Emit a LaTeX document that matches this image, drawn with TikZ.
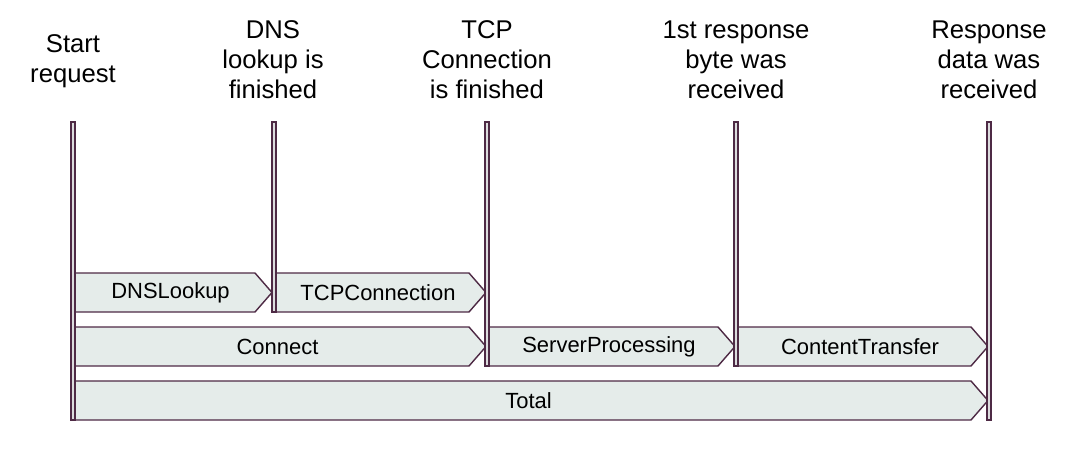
\documentclass[tikz,border=0pt]{standalone}
\usepackage{fontspec}
\setmainfont{Liberation Sans}

\definecolor{edgepurple}{HTML}{4E2A45}
\definecolor{phasefill}{HTML}{E5ECEA}
\definecolor{barfill}{HTML}{DCDCDE}

\tikzset{
  phase/.style={draw=edgepurple, fill=phasefill, line width=0.8pt, line join=miter},
  phaselabel/.style={font=\fontsize{12.5}{15}\selectfont, inner sep=0pt},
  bar/.style={draw=edgepurple, fill=barfill, line width=0.8pt},
  eventlabel/.style={font=\fontsize{14.6}{17.1}\selectfont, align=center, inner sep=0pt}
}

% name, left x, tip x, top y, text
\newcommand{\phasebox}[5]{%
  \draw[phase] (#2,#4) -- (#3-17,#4) -- (#3,#4+19.5) -- (#3-17,#4+39) -- (#2,#4+39) -- cycle;
  \node[phaselabel] (#1) at ({(#2+#3-6)/2},#4+19.5) {#5};}

\begin{document}
\begin{tikzpicture}[x=0.02cm, y=-0.02cm]
    \useasboundingbox (0,0) rectangle (1077,449);

    \node[eventlabel] (start) at (73,61) {Start\\request};
    \node[eventlabel] (dns) at (273,60) {DNS\\lookup is\\finished};
    \node[eventlabel] (tcp) at (487,60) {TCP\\Connection\\is finished};
    \node[eventlabel] (firstbyte) at (736,60) {1st response\\byte was\\received};
    \node[eventlabel] (done) at (989,60) {Response\\data was\\received};

    \phasebox{dnslookup}{75}{272}{273}{DNSLookup}
    \phasebox{tcpconn}{276}{486}{273}{TCPConnection}
    \phasebox{connect}{75}{486}{327}{Connect}
    \phasebox{serverproc}{489}{735}{327}{ServerProcessing}
    \phasebox{contenttr}{738}{988}{327}{ContentTransfer}
    \phasebox{total}{75}{988}{381}{Total}

    \draw[bar] (71,122) rectangle (75,420);
    \draw[bar] (272,122) rectangle (276,312);
    \draw[bar] (485,122) rectangle (489,366);
    \draw[bar] (734,122) rectangle (738,366);
    \draw[bar] (987,122) rectangle (991,420);
\end{tikzpicture}
\end{document}
